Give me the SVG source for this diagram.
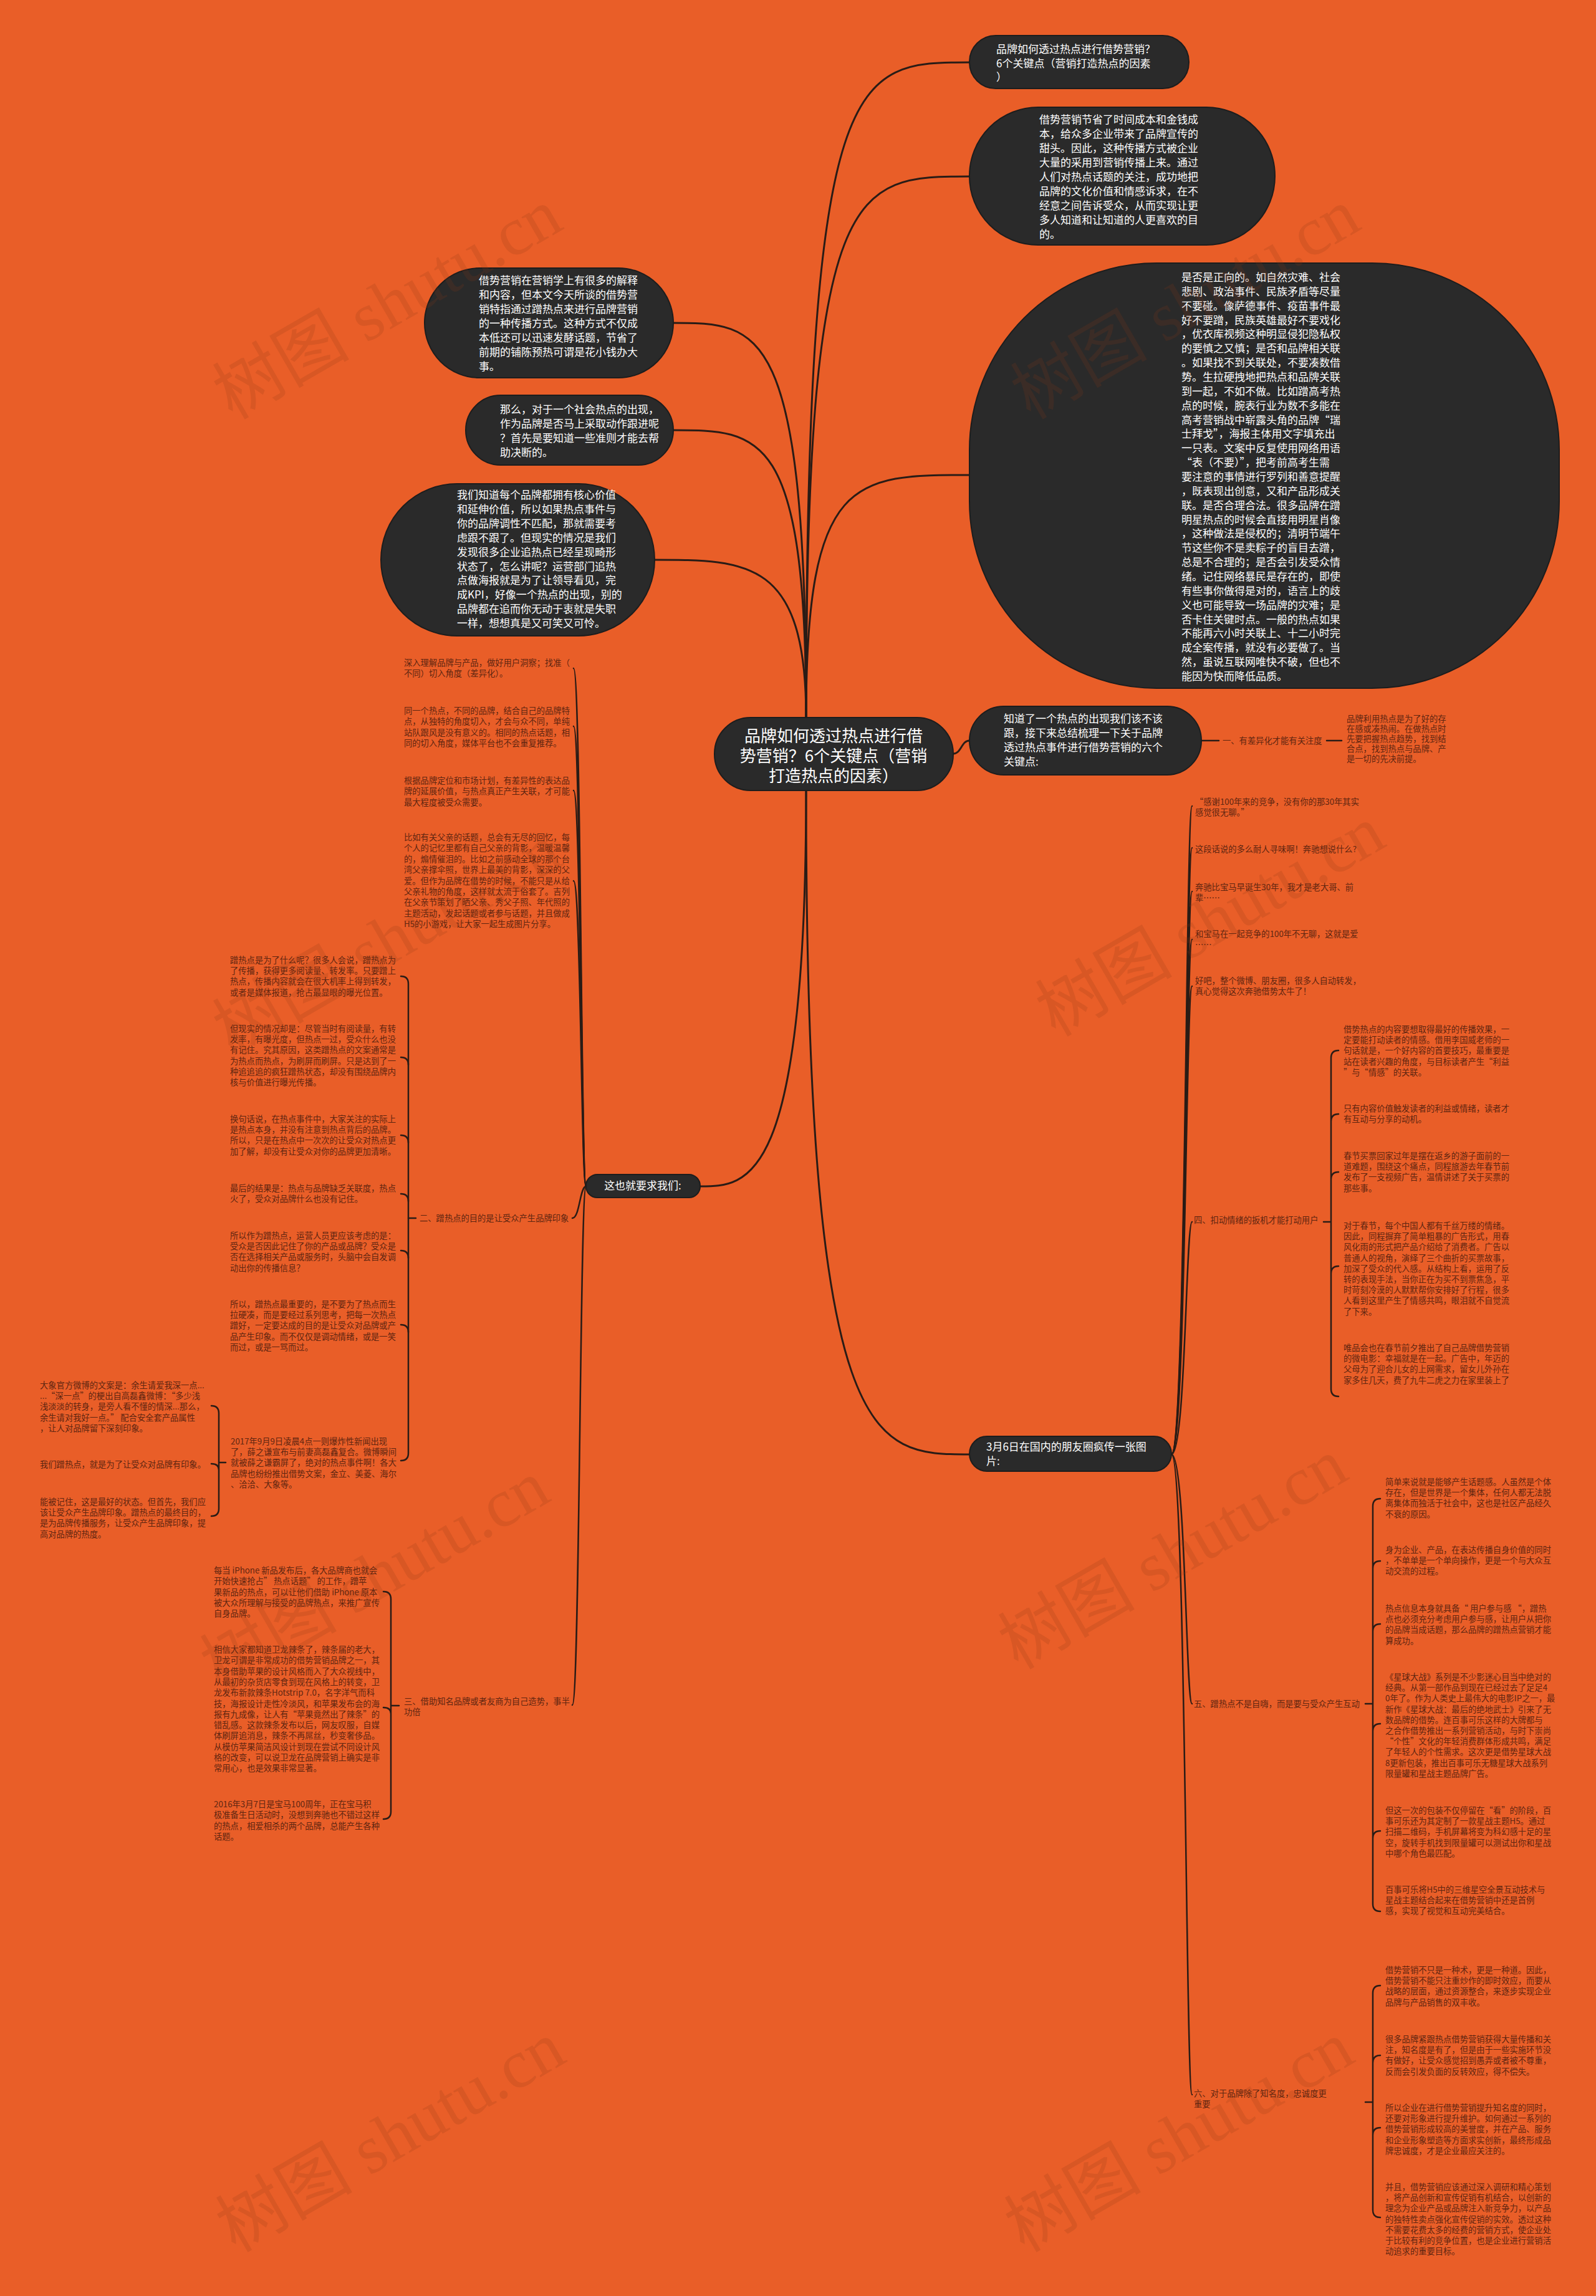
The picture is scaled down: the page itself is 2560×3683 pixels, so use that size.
<svg xmlns="http://www.w3.org/2000/svg" width="2560" height="3683" viewBox="0 0 2560 3683">
<style>
.nd{fill:#2a2a2a;stroke:#1d1d1d;stroke-width:2}
.wt{fill:#ffffff;font-family:"Noto Sans CJK SC","Noto Sans",sans-serif;font-size:17px}
.ct{fill:#ffffff;font-family:"Noto Sans CJK SC","Noto Sans",sans-serif;font-size:26px}
.t{fill:#5e2510;font-family:"Noto Sans CJK SC","Noto Sans",sans-serif;font-size:13.3px}
.c{fill:none;stroke:#2a1c16;stroke-width:3;stroke-linecap:round}
.b{fill:none;stroke:#2a1c16;stroke-width:2.5;stroke-linecap:round}
.wm{fill:#8a3a18;fill-opacity:0.18;font-family:"Liberation Serif","Noto Sans CJK SC",serif;font-size:110px}
</style>
<rect width="2560" height="3683" fill="#e95e28"/>
<g id="connectors">
<path class="c" d="M1293,1151 C1293,100 1370,100 1555,100"/>
<path class="c" d="M1293,1151 C1293,283 1370,283 1555,283"/>
<path class="c" d="M1293,1151 C1293,762 1370,762 1555,762"/>
<path class="c" d="M1293,1151 C1293,518 1220,518 1080,518"/>
<path class="c" d="M1293,1151 C1293,690 1220,690 1080,690"/>
<path class="c" d="M1293,1151 C1293,898 1200,898 1050,898"/>
<path class="c" d="M1529,1209 C1542,1209 1542,1188 1555,1188"/>
<path class="b" d="M1927,1188 L1955,1188"/>
<path class="b" d="M2128,1188 L2152,1188"/>
<path class="c" d="M1293,1268 C1293,1903 1200,1903 1123,1903"/>
<path class="c" d="M1293,1268 C1293,2333 1400,2333 1555,2333"/>
<path class="b" d="M940,1903 C932,1903 932,1072 920,1072"/>
<path class="b" d="M940,1903 C932,1903 932,1165 920,1165"/>
<path class="b" d="M940,1903 C932,1903 932,1268 920,1268"/>
<path class="b" d="M940,1903 C932,1903 932,1413 920,1413"/>
<path class="b" d="M940,1903 C930,1903 930,1954 918,1954"/>
<path class="b" d="M940,1903 C930,1903 930,2735 918,2735"/>
<path class="b" d="M1879,2333 C1902,2333 1902,1293 1912,1293"/>
<path class="b" d="M1879,2333 C1902,2333 1902,1360 1912,1360"/>
<path class="b" d="M1879,2333 C1902,2333 1902,1430 1912,1430"/>
<path class="b" d="M1879,2333 C1902,2333 1902,1507 1912,1507"/>
<path class="b" d="M1879,2333 C1902,2333 1902,1582 1912,1582"/>
<path class="b" d="M1879,2333 C1902,2333 1902,1960 1912,1960"/>
<path class="b" d="M1879,2333 C1902,2333 1902,2733 1912,2733"/>
<path class="b" d="M1879,2333 C1902,2333 1902,3360 1912,3360"/>
<path class="b" d="M643,1566 Q655,1566 655,1578 L655,2331 Q655,2343 643,2343"/>
<path class="b" d="M643,1696 Q655,1696 655,1708 M643,1821 Q655,1821 655,1833 M643,1915 Q655,1915 655,1927 M643,2006 Q655,2006 655,2018 M643,2125 Q655,2125 655,2137 M655,1954 L667,1954"/>
<path class="b" d="M339,2255 Q351,2255 351,2267 L351,2420 Q351,2432 339,2432 M339,2348 Q351,2348 351,2358 M351,2346 L362,2346"/>
<path class="b" d="M615,2553 Q627,2553 627,2565 L627,2906 Q627,2918 615,2918 M615,2739 Q627,2739 627,2749 M627,2736 L640,2736"/>
<path class="b" d="M2147,1685 Q2135,1685 2135,1697 L2135,2228 Q2135,2240 2147,2240 M2147,1787 Q2135,1787 2135,1799 M2147,1880 Q2135,1880 2135,1892 M2147,2031 Q2135,2031 2135,2043 M2123,1960 L2135,1960"/>
<path class="b" d="M2214,2404 Q2202,2404 2202,2416 L2202,3054 Q2202,3066 2214,3066 M2214,2504 Q2202,2504 2202,2516 M2214,2605 Q2202,2605 2202,2617 M2214,2765 Q2202,2765 2202,2777 M2214,2937 Q2202,2937 2202,2949 M2190,2733 L2202,2733"/>
<path class="b" d="M2214,3185 Q2202,3185 2202,3197 L2202,3545 Q2202,3557 2214,3557 M2214,3297 Q2202,3297 2202,3309 M2214,3413 Q2202,3413 2202,3425 M2190,3372 L2202,3372"/>
</g>
<g id="center">
<rect class="nd" x="1146" y="1151" width="383" height="117" rx="58"/>
<text class="ct" text-anchor="middle"><tspan x="1337" y="1190">品牌如何透过热点进行借</tspan><tspan x="1337" y="1222">势营销？6个关键点（营销</tspan><tspan x="1337" y="1254">打造热点的因素）</tspan></text>
</g>
<g id="nodeA">
<rect class="nd" x="1555" y="57" width="352" height="85" rx="42"/>
<text class="wt"><tspan x="1598" y="85">品牌如何透过热点进行借势营销？</tspan><tspan x="1598" y="108">6个关键点（营销打造热点的因素</tspan><tspan x="1598" y="130">）</tspan></text>
</g>
<g id="nodeB">
<rect class="nd" x="1555" y="172" width="490" height="221" rx="110"/>
<text class="wt"><tspan x="1667" y="198">借势营销节省了时间成本和金钱成</tspan><tspan x="1667" y="221">本，给众多企业带来了品牌宣传的</tspan><tspan x="1667" y="244">甜头。因此，这种传播方式被企业</tspan><tspan x="1667" y="267">大量的采用到营销传播上来。通过</tspan><tspan x="1667" y="290">人们对热点话题的关注，成功地把</tspan><tspan x="1667" y="313">品牌的文化价值和情感诉求，在不</tspan><tspan x="1667" y="336">经意之间告诉受众，从而实现让更</tspan><tspan x="1667" y="359">多人知道和让知道的人更喜欢的目</tspan><tspan x="1667" y="382">的。</tspan></text>
</g>
<g id="nodeC">
<rect class="nd" x="1555" y="422" width="946" height="682" rx="300"/>
<text class="wt"><tspan x="1895" y="451">是否是正向的。如自然灾难、社会</tspan><tspan x="1895" dy="22.86">悲剧、政治事件、民族矛盾等尽量</tspan><tspan x="1895" dy="22.86">不要碰。像萨德事件、疫苗事件最</tspan><tspan x="1895" dy="22.86">好不要蹭，民族英雄最好不要戏化</tspan><tspan x="1895" dy="22.86">，优衣库视频这种明显侵犯隐私权</tspan><tspan x="1895" dy="22.86">的要慎之又慎；是否和品牌相关联</tspan><tspan x="1895" dy="22.86">。如果找不到关联处，不要凑数借</tspan><tspan x="1895" dy="22.86">势。生拉硬拽地把热点和品牌关联</tspan><tspan x="1895" dy="22.86">到一起，不如不做。比如蹭高考热</tspan><tspan x="1895" dy="22.86">点的时候，腕表行业为数不多能在</tspan><tspan x="1895" dy="22.86">高考营销战中崭露头角的品牌“瑞</tspan><tspan x="1895" dy="22.86">士拜戈”，海报主体用文字填充出</tspan><tspan x="1895" dy="22.86">一只表。文案中反复使用网络用语</tspan><tspan x="1895" dy="22.86">“表（不要）”，把考前高考生需</tspan><tspan x="1895" dy="22.86">要注意的事情进行罗列和善意提醒</tspan><tspan x="1895" dy="22.86">，既表现出创意，又和产品形成关</tspan><tspan x="1895" dy="22.86">联。是否合理合法。很多品牌在蹭</tspan><tspan x="1895" dy="22.86">明星热点的时候会直接用明星肖像</tspan><tspan x="1895" dy="22.86">，这种做法是侵权的；清明节端午</tspan><tspan x="1895" dy="22.86">节这些你不是卖粽子的盲目去蹭，</tspan><tspan x="1895" dy="22.86">总是不合理的；是否会引发受众情</tspan><tspan x="1895" dy="22.86">绪。记住网络暴民是存在的，即使</tspan><tspan x="1895" dy="22.86">有些事你做得是对的，语言上的歧</tspan><tspan x="1895" dy="22.86">义也可能导致一场品牌的灾难；是</tspan><tspan x="1895" dy="22.86">否卡住关键时点。一般的热点如果</tspan><tspan x="1895" dy="22.86">不能再六小时关联上、十二小时完</tspan><tspan x="1895" dy="22.86">成全案传播，就没有必要做了。当</tspan><tspan x="1895" dy="22.86">然，虽说互联网唯快不破，但也不</tspan><tspan x="1895" dy="22.86">能因为快而降低品质。</tspan></text>
</g>
<g id="nodeD">
<rect class="nd" x="681" y="430" width="399" height="176" rx="88"/>
<text class="wt"><tspan x="768" y="456">借势营销在营销学上有很多的解释</tspan><tspan x="768" dy="23">和内容，但本文今天所谈的借势营</tspan><tspan x="768" dy="23">销特指通过蹭热点来进行品牌营销</tspan><tspan x="768" dy="23">的一种传播方式。这种方式不仅成</tspan><tspan x="768" dy="23">本低还可以迅速发酵话题，节省了</tspan><tspan x="768" dy="23">前期的铺陈预热可谓是花小钱办大</tspan><tspan x="768" dy="23">事。</tspan></text>
</g>
<g id="nodeE">
<rect class="nd" x="747" y="634" width="333" height="112" rx="56"/>
<text class="wt"><tspan x="802" y="663">那么，对于一个社会热点的出现，</tspan><tspan x="802" dy="23">作为品牌是否马上采取动作跟进呢</tspan><tspan x="802" dy="23">？首先是要知道一些准则才能去帮</tspan><tspan x="802" dy="23">助决断的。</tspan></text>
</g>
<g id="nodeF">
<rect class="nd" x="611" y="776" width="439" height="244" rx="122"/>
<text class="wt"><tspan x="733" y="800">我们知道每个品牌都拥有核心价值</tspan><tspan x="733" dy="22.9">和延伸价值，所以如果热点事件与</tspan><tspan x="733" dy="22.9">你的品牌调性不匹配，那就需要考</tspan><tspan x="733" dy="22.9">虑跟不跟了。但现实的情况是我们</tspan><tspan x="733" dy="22.9">发现很多企业追热点已经呈现畸形</tspan><tspan x="733" dy="22.9">状态了，怎么讲呢？运营部门追热</tspan><tspan x="733" dy="22.9">点做海报就是为了让领导看见，完</tspan><tspan x="733" dy="22.9">成KPI，好像一个热点的出现，别的</tspan><tspan x="733" dy="22.9">品牌都在追而你无动于衷就是失职</tspan><tspan x="733" dy="22.9">一样，想想真是又可笑又可怜。</tspan></text>
</g>
<g id="nodeG">
<rect class="nd" x="1555" y="1133" width="372" height="110" rx="55"/>
<text class="wt"><tspan x="1610" y="1159">知道了一个热点的出现我们该不该</tspan><tspan x="1610" dy="23">跟，接下来总结梳理一下关于品牌</tspan><tspan x="1610" dy="23">透过热点事件进行借势营销的六个</tspan><tspan x="1610" dy="23">关键点:</tspan></text>
</g>
<g id="branch1">
<text class="t" x="1961" y="1193">一、有差异化才能有关注度</text>
<text class="t"><tspan x="2160" y="1158">品牌利用热点是为了好的存</tspan><tspan x="2160" dy="16">在感或凑热闹。在做热点时</tspan><tspan x="2160" dy="16">先要把握热点趋势，找到结</tspan><tspan x="2160" dy="16">合点，找到热点与品牌、产</tspan><tspan x="2160" dy="16">是一切的先决前提。</tspan></text>
</g>
<g id="nodeH">
<rect class="nd" x="940" y="1884" width="183" height="37" rx="18"/>
<text class="wt" x="1031" y="1908" text-anchor="middle">这也就要求我们:</text>
</g>
<g id="left-texts">
<text class="t"><tspan x="648" y="1068">深入理解品牌与产品，做好用户洞察；找准（</tspan><tspan x="648" dy="17.4">不同）切入角度（差异化）。</tspan></text>
<text class="t"><tspan x="648" y="1145">同一个热点，不同的品牌，结合自己的品牌特</tspan><tspan x="648" dy="17.4">点，从独特的角度切入，才会与众不同，单纯</tspan><tspan x="648" dy="17.4">站队跟风是没有意义的。相同的热点话题，相</tspan><tspan x="648" dy="17.4">同的切入角度，媒体平台也不会重复推荐。</tspan></text>
<text class="t"><tspan x="648" y="1257">根据品牌定位和市场计划，有差异性的表达品</tspan><tspan x="648" dy="17.4">牌的延展价值，与热点真正产生关联，才可能</tspan><tspan x="648" dy="17.4">最大程度被受众需要。</tspan></text>
<text class="t"><tspan x="648" y="1348">比如有关父亲的话题，总会有无尽的回忆，每</tspan><tspan x="648" dy="17.4">个人的记忆里都有自己父亲的背影，温暖温馨</tspan><tspan x="648" dy="17.4">的，煽情催泪的。比如之前感动全球的那个台</tspan><tspan x="648" dy="17.4">湾父亲撑伞照，世界上最美的背影，深深的父</tspan><tspan x="648" dy="17.4">爱。但作为品牌在借势的时候，不能只是从给</tspan><tspan x="648" dy="17.4">父亲礼物的角度，这样就太流于俗套了。吉列</tspan><tspan x="648" dy="17.4">在父亲节策划了晒父亲、秀父子照、年代照的</tspan><tspan x="648" dy="17.4">主题活动，发起话题或者参与话题，并且做成</tspan><tspan x="648" dy="17.4">H5的小游戏，让大家一起生成图片分享。</tspan></text>
</g>
<g id="branch2">
<text class="t" x="673" y="1959">二、蹭热点的目的是让受众产生品牌印象</text>
<text class="t"><tspan x="369" y="1545">蹭热点是为了什么呢？很多人会说，蹭热点为</tspan><tspan x="369" dy="17.2">了传播，获得更多阅读量、转发率。只要蹭上</tspan><tspan x="369" dy="17.2">热点，传播内容就会在很大机率上得到转发，</tspan><tspan x="369" dy="17.2">或者是媒体报道，抢占最显眼的曝光位置。</tspan></text>
<text class="t"><tspan x="369" y="1655">但现实的情况却是：尽管当时有阅读量，有转</tspan><tspan x="369" dy="17.2">发率，有曝光度，但热点一过，受众什么也没</tspan><tspan x="369" dy="17.2">有记住。究其原因，这类蹭热点的文案通常是</tspan><tspan x="369" dy="17.2">为热点而热点，为刷屏而刷屏。只是达到了一</tspan><tspan x="369" dy="17.2">种追追追的疯狂蹭热状态，却没有围绕品牌内</tspan><tspan x="369" dy="17.2">核与价值进行曝光传播。</tspan></text>
<text class="t"><tspan x="369" y="1800">换句话说，在热点事件中，大家关注的实际上</tspan><tspan x="369" dy="17.2">是热点本身，并没有注意到热点背后的品牌。</tspan><tspan x="369" dy="17.2">所以，只是在热点中一次次的让受众对热点更</tspan><tspan x="369" dy="17.2">加了解，却没有让受众对你的品牌更加清晰。</tspan></text>
<text class="t"><tspan x="369" y="1911">最后的结果是：热点与品牌缺乏关联度，热点</tspan><tspan x="369" dy="17.2">火了，受众对品牌什么也没有记住。</tspan></text>
<text class="t"><tspan x="369" y="1987">所以作为蹭热点，运营人员更应该考虑的是：</tspan><tspan x="369" dy="17.2">受众是否因此记住了你的产品或品牌？受众是</tspan><tspan x="369" dy="17.2">否在选择相关产品或服务时，头脑中会自发调</tspan><tspan x="369" dy="17.2">动出你的传播信息？</tspan></text>
<text class="t"><tspan x="369" y="2097">所以，蹭热点最重要的，是不要为了热点而生</tspan><tspan x="369" dy="17.2">拉硬凑，而是要经过系列思考，把每一次热点</tspan><tspan x="369" dy="17.2">蹭好，一定要达成的目的是让受众对品牌或产</tspan><tspan x="369" dy="17.2">品产生印象。而不仅仅是调动情绪，或是一笑</tspan><tspan x="369" dy="17.2">而过，或是一骂而过。</tspan></text>
<text class="t"><tspan x="370" y="2317">2017年9月9日凌晨4点一则爆炸性新闻出现</tspan><tspan x="370" dy="17.2">了，薛之谦宣布与前妻高磊鑫复合。微博瞬间</tspan><tspan x="370" dy="17.2">就被薛之谦霸屏了，绝对的热点事件啊！各大</tspan><tspan x="370" dy="17.2">品牌也纷纷推出借势文案，金立、美菱、海尔</tspan><tspan x="370" dy="17.2">、洽洽、大象等。</tspan></text>
<text class="t"><tspan x="64" y="2227">大象官方微博的文案是：余生请爱我深一点...</tspan><tspan x="64" dy="17.2">...“深一点”的梗出自高磊鑫微博：“多少浅</tspan><tspan x="64" dy="17.2">浅淡淡的转身，是旁人看不懂的情深...那么，</tspan><tspan x="64" dy="17.2">余生请对我好一点。” 配合安全套产品属性</tspan><tspan x="64" dy="17.2">，让人对品牌留下深刻印象。</tspan></text>
<text class="t" x="64" y="2354">我们蹭热点，就是为了让受众对品牌有印象。</text>
<text class="t"><tspan x="64" y="2414">能被记住，这是最好的状态。但首先，我们应</tspan><tspan x="64" dy="17.2">该让受众产生品牌印象。蹭热点的最终目的，</tspan><tspan x="64" dy="17.2">是为品牌传播服务，让受众产生品牌印象，提</tspan><tspan x="64" dy="17.2">高对品牌的热度。</tspan></text>
</g>
<g id="branch3">
<text class="t"><tspan x="648" y="2734">三、借助知名品牌或者友商为自己造势，事半</tspan><tspan x="648" dy="17.3">功倍</tspan></text>
<text class="t"><tspan x="343" y="2524">每当 iPhone 新品发布后，各大品牌商也就会</tspan><tspan x="343" dy="17.3">开始快速抢占” 热点话题” 的工作，蹭苹</tspan><tspan x="343" dy="17.3">果新品的热点，可以让他们借助 iPhone 原本</tspan><tspan x="343" dy="17.3">被大众所理解与接受的品牌热点，来推广宣传</tspan><tspan x="343" dy="17.3">自身品牌。</tspan></text>
<text class="t"><tspan x="343" y="2651">相信大家都知道卫龙辣条了，辣条届的老大，</tspan><tspan x="343" dy="17.3">卫龙可谓是非常成功的借势营销品牌之一，其</tspan><tspan x="343" dy="17.3">本身借助苹果的设计风格而入了大众视线中，</tspan><tspan x="343" dy="17.3">从最初的杂货店零食到现在风格上的转变，卫</tspan><tspan x="343" dy="17.3">龙发布新款辣条Hotstrip 7.0，名字洋气而科</tspan><tspan x="343" dy="17.3">技，海报设计走性冷淡风，和苹果发布会的海</tspan><tspan x="343" dy="17.3">报有九成像，让人有“苹果竟然出了辣条”的</tspan><tspan x="343" dy="17.3">错乱感。这款辣条发布以后，网友叹服，自媒</tspan><tspan x="343" dy="17.3">体刷屏追消息，辣条不再屌丝，秒变奢侈品。</tspan><tspan x="343" dy="17.3">从模仿苹果简洁风设计到现在尝试不同设计风</tspan><tspan x="343" dy="17.3">格的改变，可以说卫龙在品牌营销上确实是非</tspan><tspan x="343" dy="17.3">常用心，也是效果非常显著。</tspan></text>
<text class="t"><tspan x="343" y="2899">2016年3月7日是宝马100周年，正在宝马积</tspan><tspan x="343" dy="17.3">极准备生日活动时，没想到奔驰也不错过这样</tspan><tspan x="343" dy="17.3">的热点，相爱相杀的两个品牌，总能产生各种</tspan><tspan x="343" dy="17.3">话题。</tspan></text>
</g>
<g id="nodeI">
<rect class="nd" x="1555" y="2304" width="324" height="56" rx="28"/>
<text class="wt"><tspan x="1582" y="2327">3月6日在国内的朋友圈疯传一张图</tspan><tspan x="1582" dy="23">片:</tspan></text>
</g>
<g id="right-texts">
<text class="t"><tspan x="1917" y="1291">“感谢100年来的竞争，没有你的那30年其实</tspan><tspan x="1917" dy="17.3">感觉很无聊。”</tspan></text>
<text class="t" x="1917" y="1367">这段话说的多么耐人寻味啊！奔驰想说什么?</text>
<text class="t"><tspan x="1917" y="1428">奔驰比宝马早诞生30年，我才是老大哥、前</tspan><tspan x="1917" dy="17.3">辈……</tspan></text>
<text class="t"><tspan x="1917" y="1503">和宝马在一起竞争的100年不无聊，这就是爱</tspan><tspan x="1917" dy="17.3">……</tspan></text>
<text class="t"><tspan x="1917" y="1578">好吧，整个微博、朋友圈，很多人自动转发，</tspan><tspan x="1917" dy="17.3">真心觉得这次奔驰借势太牛了！</tspan></text>
</g>
<g id="branch4">
<text class="t" x="1915" y="1962">四、扣动情绪的扳机才能打动用户</text>
<text class="t"><tspan x="2155" y="1656">借势热点的内容要想取得最好的传播效果，一</tspan><tspan x="2155" dy="17.2">定要能打动读者的情感。借用李国威老师的一</tspan><tspan x="2155" dy="17.2">句话就是，一个好内容的首要技巧，最重要是</tspan><tspan x="2155" dy="17.2">站在读者兴趣的角度，与目标读者产生“利益</tspan><tspan x="2155" dy="17.2">”与“情感”的关联。</tspan></text>
<text class="t"><tspan x="2155" y="1783">只有内容价值触发读者的利益或情绪，读者才</tspan><tspan x="2155" dy="17.2">有互动与分享的动机。</tspan></text>
<text class="t"><tspan x="2155" y="1859">春节买票回家过年是摆在返乡的游子面前的一</tspan><tspan x="2155" dy="17.2">道难题，围绕这个痛点，同程旅游去年春节前</tspan><tspan x="2155" dy="17.2">发布了一支视频广告，温情讲述了关于买票的</tspan><tspan x="2155" dy="17.2">那些事。</tspan></text>
<text class="t"><tspan x="2155" y="1971">对于春节，每个中国人都有千丝万缕的情绪。</tspan><tspan x="2155" dy="17.2">因此，同程摒弃了简单粗暴的广告形式，用春</tspan><tspan x="2155" dy="17.2">风化雨的形式把产品介绍给了消费者。广告以</tspan><tspan x="2155" dy="17.2">普通人的视角，演绎了三个曲折的买票故事，</tspan><tspan x="2155" dy="17.2">加深了受众的代入感。从结构上看，运用了反</tspan><tspan x="2155" dy="17.2">转的表现手法，当你正在为买不到票焦急，平</tspan><tspan x="2155" dy="17.2">时苛刻冷漠的人默默帮你安排好了行程，很多</tspan><tspan x="2155" dy="17.2">人看到这里产生了情感共鸣，眼泪就不自觉流</tspan><tspan x="2155" dy="17.2">了下来。</tspan></text>
<text class="t"><tspan x="2155" y="2167">唯品会也在春节前夕推出了自己品牌借势营销</tspan><tspan x="2155" dy="17.2">的微电影：幸福就是在一起。广告中，年迈的</tspan><tspan x="2155" dy="17.2">父母为了迎合儿女的上网需求，留女儿外孙在</tspan><tspan x="2155" dy="17.2">家多住几天，费了九牛二虎之力在家里装上了</tspan></text>
</g>
<g id="branch5">
<text class="t" x="1915" y="2738">五、蹭热点不是自嗨，而是要与受众产生互动</text>
<text class="t"><tspan x="2222" y="2382">简单来说就是能够产生话题感。人虽然是个体</tspan><tspan x="2222" dy="17.2">存在，但是世界是一个集体，任何人都无法脱</tspan><tspan x="2222" dy="17.2">离集体而独活于社会中，这也是社区产品经久</tspan><tspan x="2222" dy="17.2">不衰的原因。</tspan></text>
<text class="t"><tspan x="2222" y="2491">身为企业、产品，在表达传播自身价值的同时</tspan><tspan x="2222" dy="17.2">，不单单是一个单向操作，更是一个与大众互</tspan><tspan x="2222" dy="17.2">动交流的过程。</tspan></text>
<text class="t"><tspan x="2222" y="2585">热点信息本身就具备“ 用户参与感 “，蹭热</tspan><tspan x="2222" dy="17.2">点也必须充分考虑用户参与感，让用户从把你</tspan><tspan x="2222" dy="17.2">的品牌当成话题，那么品牌的蹭热点营销才能</tspan><tspan x="2222" dy="17.2">算成功。</tspan></text>
<text class="t"><tspan x="2222" y="2695">《星球大战》系列是不少影迷心目当中绝对的</tspan><tspan x="2222" dy="17.2">经典。从第一部作品到现在已经过去了足足4</tspan><tspan x="2222" dy="17.2">0年了。作为人类史上最伟大的电影IP之一，最</tspan><tspan x="2222" dy="17.2">新作《星球大战：最后的绝地武士》引来了无</tspan><tspan x="2222" dy="17.2">数品牌的借势。连百事可乐这样的大牌都与</tspan><tspan x="2222" dy="17.2">之合作借势推出一系列营销活动，与时下崇尚</tspan><tspan x="2222" dy="17.2">“个性”文化的年轻消费群体形成共鸣，满足</tspan><tspan x="2222" dy="17.2">了年轻人的个性需求。这次更是借势星球大战</tspan><tspan x="2222" dy="17.2">8更新包装，推出百事可乐无糖星球大战系列</tspan><tspan x="2222" dy="17.2">限量罐和星战主题品牌广告。</tspan></text>
<text class="t"><tspan x="2222" y="2909">但这一次的包装不仅停留在“看”的阶段，百</tspan><tspan x="2222" dy="17.2">事可乐还为其定制了一款星战主题H5。通过</tspan><tspan x="2222" dy="17.2">扫描二维码，手机屏幕将变为科幻感十足的星</tspan><tspan x="2222" dy="17.2">空，旋转手机找到限量罐可以测试出你和星战</tspan><tspan x="2222" dy="17.2">中哪个角色最匹配。</tspan></text>
<text class="t"><tspan x="2222" y="3036">百事可乐将H5中的三维星空全景互动技术与</tspan><tspan x="2222" dy="17.2">星战主题结合起来在借势营销中还是首例</tspan><tspan x="2222" dy="17.2">感，实现了视觉和互动完美结合。</tspan></text>
</g>
<g id="branch6">
<text class="t"><tspan x="1915" y="3363">六、对于品牌除了知名度，忠诚度更</tspan><tspan x="1915" dy="17.3">重要</tspan></text>
<text class="t"><tspan x="2222" y="3165">借势营销不只是一种术，更是一种道。因此，</tspan><tspan x="2222" dy="17.2">借势营销不能只注重炒作的即时效应，而要从</tspan><tspan x="2222" dy="17.2">战略的层面，通过资源整合，来逐步实现企业</tspan><tspan x="2222" dy="17.2">品牌与产品销售的双丰收。</tspan></text>
<text class="t"><tspan x="2222" y="3276">很多品牌紧跟热点借势营销获得大量传播和关</tspan><tspan x="2222" dy="17.2">注，知名度是有了，但是由于一些实施环节没</tspan><tspan x="2222" dy="17.2">有做好，让受众感觉招到愚弄或者被不尊重，</tspan><tspan x="2222" dy="17.2">反而会引发负面的反转效应，得不偿失。</tspan></text>
<text class="t"><tspan x="2222" y="3386">所以企业在进行借势营销提升知名度的同时，</tspan><tspan x="2222" dy="17.2">还要对形象进行提升维护。如何通过一系列的</tspan><tspan x="2222" dy="17.2">借势营销形成较高的美誉度，并在产品、服务</tspan><tspan x="2222" dy="17.2">和企业形象塑造等方面求实创新，最终形成品</tspan><tspan x="2222" dy="17.2">牌忠诚度，才是企业最应关注的。</tspan></text>
<text class="t"><tspan x="2222" y="3513">并且，借势营销应该通过深入调研和精心策划</tspan><tspan x="2222" dy="17.2">，将产品创新和宣传促销有机结合，以创新的</tspan><tspan x="2222" dy="17.2">理念为企业产品或品牌注入新竞争力，以产品</tspan><tspan x="2222" dy="17.2">的独特性卖点强化宣传促销的实效。透过这种</tspan><tspan x="2222" dy="17.2">不需要花费太多的经费的营销方式，使企业处</tspan><tspan x="2222" dy="17.2">于比较有利的竞争位置，也是企业进行营销活</tspan><tspan x="2222" dy="17.2">动追求的重要目标。</tspan></text>
</g>
<g id="watermarks">
<text class="wm" transform="translate(640,520) rotate(-30)" text-anchor="middle">树图 shutu.cn</text>
<text class="wm" transform="translate(1920,520) rotate(-30)" text-anchor="middle">树图 shutu.cn</text>
<text class="wm" transform="translate(1960,1510) rotate(-30)" text-anchor="middle">树图 shutu.cn</text>
<text class="wm" transform="translate(640,1540) rotate(-30)" text-anchor="middle">树图 shutu.cn</text>
<text class="wm" transform="translate(620,2560) rotate(-30)" text-anchor="middle">树图 shutu.cn</text>
<text class="wm" transform="translate(1900,2525) rotate(-30)" text-anchor="middle">树图 shutu.cn</text>
<text class="wm" transform="translate(645,3460) rotate(-30)" text-anchor="middle">树图 shutu.cn</text>
<text class="wm" transform="translate(1910,3460) rotate(-30)" text-anchor="middle">树图 shutu.cn</text>
</g>
</svg>
